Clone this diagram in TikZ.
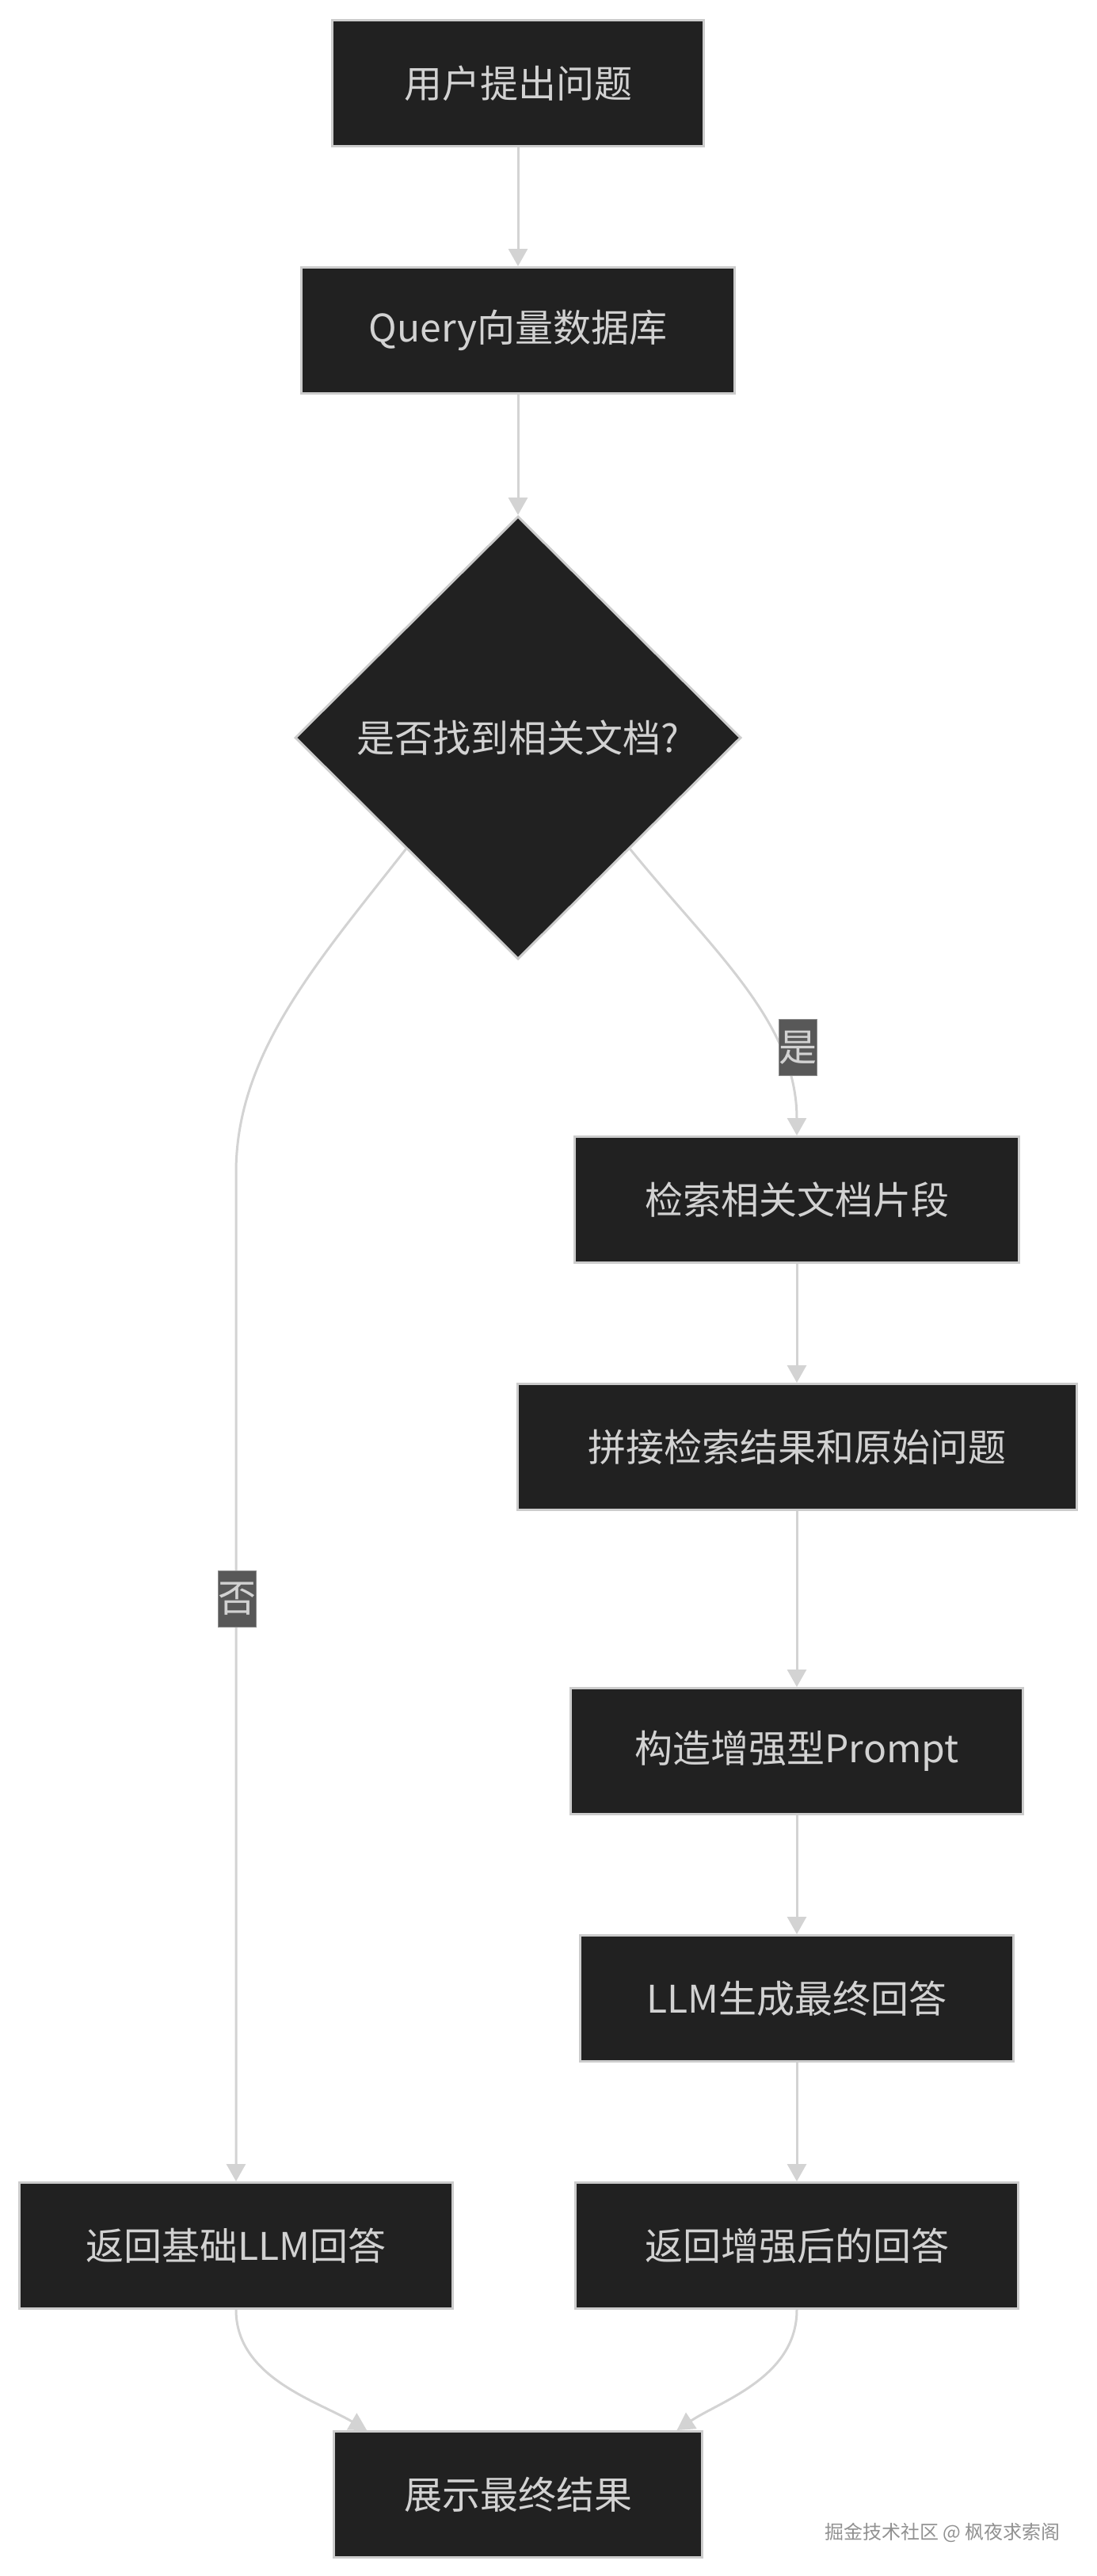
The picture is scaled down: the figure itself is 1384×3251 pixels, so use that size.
\documentclass[tikz,border=0pt]{standalone}
\usepackage{fontspec}
\setmainfont{Noto Sans CJK SC}
\usetikzlibrary{arrows.meta,shapes.geometric}
\definecolor{boxfill}{RGB}{33,33,33}
\definecolor{boxline}{RGB}{204,204,204}
\definecolor{txt}{RGB}{210,210,210}
\definecolor{edge}{RGB}{211,211,211}
\definecolor{lblfill}{RGB}{88,88,88}
\definecolor{lblline}{RGB}{140,140,140}
\definecolor{mark}{RGB}{145,145,145}

\begin{document}
\begin{tikzpicture}[x=1pt,y=-1pt,
  every node/.style={font=\fontsize{48}{58}\selectfont,text=txt},
  box/.style={draw=boxline,fill=boxfill,line width=3pt,minimum height=159pt,inner sep=0pt},
  choice/.style={diamond,draw=boxline,fill=boxfill,line width=3pt,minimum width=563pt,minimum height=559pt,inner sep=0pt},
  lbl/.style={draw=lblline,fill=lblfill,line width=1pt,minimum width=48pt,minimum height=71pt,inner sep=0pt},
  flow/.style={draw=edge,line width=3pt,-{Triangle[width=24pt,length=22pt]}}]
\useasboundingbox (0,0) rectangle (1384,3251);
% main column
\node[box,minimum width=469pt] (ask) at (654,105) {用户提出问题};
\node[box,minimum width=547pt] (query) at (654,417) {Query向量数据库};
\node[choice] (found) at (654,931) {是否找到相关文档?};
% yes branch
\node[box,minimum width=561pt] (fetch) at (1006,1514) {检索相关文档片段};
\node[box,minimum width=706pt] (join) at (1006,1826) {拼接检索结果和原始问题};
\node[box,minimum width=571pt] (build) at (1006,2210) {构造增强型Prompt};
\node[box,minimum width=547pt] (gen) at (1006,2522) {LLM生成最终回答};
\node[box,minimum width=559pt] (rich) at (1006,2834) {返回增强后的回答};
% no branch
\node[box,minimum width=547pt] (plain) at (298,2834) {返回基础LLM回答};
\node[box,minimum width=465pt] (final) at (654,3148) {展示最终结果};
\coordinate (bend) at (298,1480);

\draw[flow] (ask) -- (query);
\draw[flow] (query) -- (found);
\draw[flow] (found.south east) .. controls (900,1200) and (1006,1290) .. (fetch.north);
\draw[flow] (found.south west) .. controls (400,1215) and (298,1330) .. (bend) -- (plain.north);
\draw[flow] (fetch) -- (join);
\draw[flow] (join) -- (build);
\draw[flow] (build) -- (gen);
\draw[flow] (gen) -- (rich);
\draw[flow] (plain.south) .. controls (298,3000) and (400,3030) .. (final.157);
\draw[flow] (rich.south) .. controls (1006,3000) and (910,3030) .. (final.22);

\node[lbl] (yes) at (1007,1322) {是};
\node[lbl] (no) at (299,2018) {否};

\node[font=\fontsize{24}{28}\selectfont,text=mark,anchor=east] (wm) at (1342,3196) {掘金技术社区 @ 枫夜求索阁};
\end{tikzpicture}
\end{document}
